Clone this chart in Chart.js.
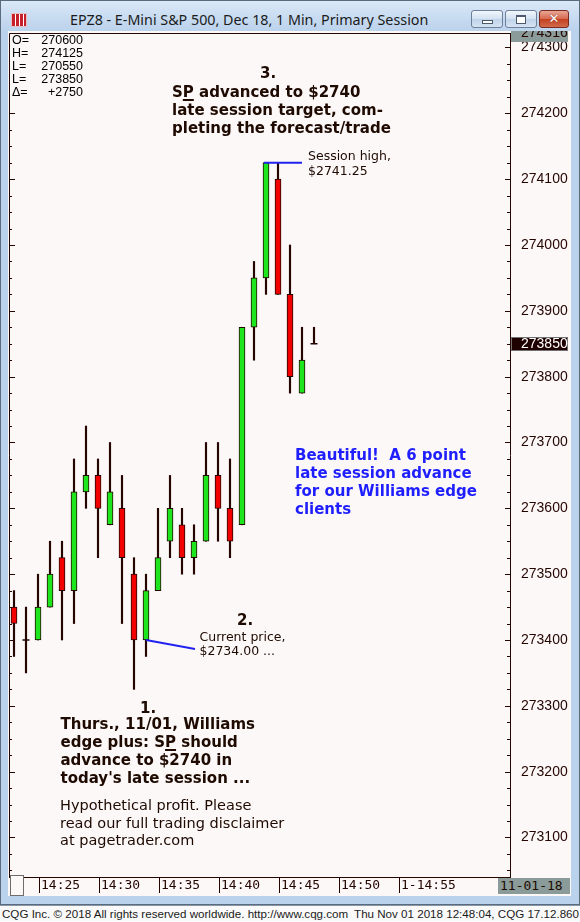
<!DOCTYPE html>
<html>
<head>
<meta charset="utf-8">
<title>EPZ8 - E-Mini S&amp;P 500, Dec 18, 1 Min</title>
<script src="https://cdn.jsdelivr.net/npm/chart.js@4.4.1/dist/chart.umd.min.js"></script>
<style>
  html, body { margin:0; padding:0; }
  body { width:580px; height:922px; position:relative; overflow:hidden; background:#fbfbfb;
         font-family:"DejaVu Sans", Verdana, sans-serif; color:#1e0a00; }
  .abs { position:absolute; }
  #win { left:0; top:0; width:578px; height:903px; border:1px solid #5a6b7e; background:#bad2ec; }
  #titlebar { left:1px; top:1px; width:578px; height:30px; background:linear-gradient(#dbe8f7, #c6daf0 60%, #bcd3ec); }
  #appicon { left:10px; top:12px; width:14px; height:12px; background:
      repeating-linear-gradient(90deg, #c8202a 0 3px, #fff 3px 4px), #c8202a; border:1px solid #e6c0c0; }
  #title { left:69px; top:9px; font-family:"Noto Sans", sans-serif; font-size:14.3px; line-height:20px; color:#1b1b1b; white-space:nowrap; }
  .btn { top:9px; width:30px; height:16px; border:1px solid #6e7f98; border-radius:3px;
         background:linear-gradient(#f1f6fc, #d3e1f1 50%, #c0d3ea 51%, #d5e3f3); }
  .btn .ico { position:absolute; background:#fff; border:1px solid #4c5a6c; }
  .close { width:28px; border-color:#7a2a1e; background:linear-gradient(#e9a795, #d6674d 50%, #c2401f 51%, #d16a4b);
           color:#fff; font-weight:bold; font-size:13px; line-height:16px; text-align:center; text-shadow:0 0 1px #5a1508; }
  #client { left:8px; top:31px; width:563px; height:865px; background:#fcf8f8; }
  #chartbox { left:9px; top:30px; width:561px; height:865px; }
  #ohlc { left:10px; top:34px; width:81px; height:66px; background:#fcf8f8;
          font-family:"Liberation Sans", Arial, sans-serif; font-size:12.5px; color:#000; }
  #ohlc .r { position:relative; height:13px; line-height:13px; padding-left:2px; }
  #ohlc .r span { position:absolute; right:8px; top:0; }
  #cornerbox { left:10px; top:875px; width:12px; height:19px; border:1px solid #6d6d6d; background:#fcf8f8; }
  #datebox { left:498px; top:878px; width:72px; height:16px; background:#8a9b99;
             font-family:"DejaVu Sans Mono", monospace; font-size:13px; line-height:16px; color:#1e0a00; }
  #datebox span { margin-left:2px; }
  #footer { left:0; top:905px; width:580px; height:17px; background:#fafafa; border-top:1px solid #8797a8;
            font-family:"Liberation Sans", Arial, sans-serif; font-size:11.6px; line-height:16px; color:#1a1a1a; white-space:nowrap; }
  .ann { position:absolute; white-space:nowrap; color:#1e0a00; }
  .b15 { font-weight:bold; font-size:15px; line-height:18px; }
  .n125 { font-size:12.5px; }
  .blue { color:#1e1eff; }
  u { text-decoration-thickness:1.5px; text-underline-offset:2px; }
</style>
</head>
<body>
<div id="win" class="abs"></div>
<div id="titlebar" class="abs">
  <div id="appicon" class="abs"></div>
  <div id="title" class="abs">EPZ8 - E-Mini S&amp;P 500, Dec 18, 1 Min, Primary Session</div>
  <div class="btn abs" style="left:470px;"><div class="ico" style="left:10px;top:9px;width:9px;height:2px;"></div></div>
  <div class="btn abs" style="left:504px;"><div class="ico" style="left:10px;top:4px;width:8px;height:6px;border-top-width:2px;"></div></div>
  <div class="btn close abs" style="left:538px;">✕</div>
</div>
<div id="client" class="abs"></div>
<div id="chartbox" class="abs"><canvas id="chart" width="561" height="865"></canvas></div>

<div id="ohlc" class="abs">
  <div class="r">O=<span>270600</span></div>
  <div class="r">H=<span>274125</span></div>
  <div class="r">L=<span>270550</span></div>
  <div class="r">L=<span>273850</span></div>
  <div class="r">Δ=<span>+2750</span></div>
</div>

<div class="ann b15" style="left:260px;top:63.5px;">3.</div>
<div class="ann b15" style="left:172px;top:83px;">S<u>P</u> advanced to $2740<br>late session target, com-<br>pleting the forecast/trade</div>
<div class="ann n125" style="left:308px;top:148px;line-height:15px;">Session high,<br>$2741.25</div>
<div class="ann b15 blue" style="left:295px;top:446px;">Beautiful!&nbsp; A 6 point<br>late session advance<br>for our Williams edge<br>clients</div>
<div class="ann b15" style="left:237px;top:611px;">2.</div>
<div class="ann n125" style="left:199.5px;top:629.5px;line-height:14px;">Current price,<br>$2734.00 ...</div>
<div class="ann b15" style="left:140px;top:698.5px;">1.</div>
<div class="ann b15" style="left:60.5px;top:715px;">Thurs., 11/01, Williams<br>edge plus: S<u>P</u> should<br>advance to $2740 in<br>today's late session ...</div>
<div class="ann" style="left:60px;top:797px;font-size:14.5px;line-height:17.7px;">Hypothetical profit. Please<br>read our full trading disclaimer<br>at pagetrader.com</div>

<div id="cornerbox" class="abs"></div>
<div id="datebox" class="abs"><span>11-01-18</span></div>
<div id="footer" class="abs">
  <span style="position:absolute;left:2px;">CQG Inc. © 2018 All rights reserved worldwide. http://www.cqg.com</span>
  <span style="position:absolute;right:1px;">Thu Nov 01 2018 12:48:04, CQG 17.12.860</span>
</div>

<script>
// one-minute bars, price in index points x100
const OPENS  = [273450, 273400, 273400, 273450, 273525, 273475, 273625, 273650, 273575, 273600,
                273500, 273400, 273475, 273550, 273575, 273525, 273550, 273650, 273600, 273575,
                273875, 273950, 274100, 273925, 273775, 273850];
const HIGHS  = [273475, 273450, 273500, 273550, 273550, 273675, 273725, 273675, 273700, 273650,
                273525, 273500, 273600, 273650, 273600, 273575, 273700, 273700, 273675, 273875,
                273975, 274125, 274125, 274000, 273875, 273875];
const LOWS   = [273375, 273350, 273400, 273450, 273400, 273425, 273600, 273525, 273575, 273425,
                273325, 273375, 273475, 273525, 273500, 273500, 273550, 273550, 273525, 273575,
                273825, 273925, 273925, 273775, 273775, 273850];
const CLOSES = [273425, 273400, 273450, 273500, 273475, 273625, 273650, 273600, 273625, 273525,
                273400, 273475, 273525, 273600, 273525, 273550, 273650, 273600, 273550, 273875,
                273950, 274125, 273925, 273800, 273825, 273850];

const TIME_LABELS = ['14:25', '14:30', '14:35', '14:40', '14:45', '14:50', '1-14:55'];
const FIRST_LABEL_BAR = 2;     // the 14:25 bar
const BARS_PER_LABEL = 5;

const Y_MIN = 273040, Y_MAX = 274322;
const Y_STEP = 25, Y_LABEL_STEP = 100;
const TOP_PRICE = '274316';
const CALLOUT_BAR = 11;        // "current price" bar

const X_MIN = -5 / 12, X_MAX = 41 + 1 / 3;

const DARK  = '#250500';
const GREEN = '#1ee61e';
const RED   = '#f20000';
const BLUE  = '#2222f0';

const idx = CLOSES.map((_, i) => i);

// chart area frame, scale ticks, price boxes and callout lines
const cqgMarks = {
  id: 'cqgMarks',
  afterDraw(chart) {
    const { ctx, chartArea: a, scales: { x, y } } = chart;
    ctx.save();
    ctx.strokeStyle = DARK;
    ctx.lineWidth = 1;
    ctx.beginPath();
    ctx.moveTo(a.left + 0.5, a.bottom);
    ctx.lineTo(a.left + 0.5, a.top + 0.5);
    ctx.lineTo(a.right, a.top + 0.5);
    y.ticks.forEach(t => {
      const py = Math.round(y.getPixelForValue(t.value)) + 0.5;
      const major = t.value % Y_LABEL_STEP === 0;
      ctx.moveTo(a.left, py); ctx.lineTo(a.left + (major ? 6 : 3), py);
      ctx.moveTo(a.right - (major ? 5 : 3), py); ctx.lineTo(a.right, py);
    });
    x.ticks.forEach(t => {
      const px = Math.round(x.getPixelForValue(t.value)) + 1.5;
      ctx.moveTo(px, a.bottom); ctx.lineTo(px, a.bottom + 16);
    });
    ctx.stroke();

    // callout lines
    ctx.strokeStyle = BLUE;
    ctx.lineWidth = 2;
    const hiBar = HIGHS.indexOf(Math.max(...HIGHS));
    const hx = x.getPixelForValue(hiBar), hy = y.getPixelForValue(HIGHS[hiBar]);
    ctx.beginPath(); ctx.moveTo(hx - 2, hy); ctx.lineTo(hx + 36, hy); ctx.stroke();
    const cx = x.getPixelForValue(CALLOUT_BAR), cy = y.getPixelForValue(OPENS[CALLOUT_BAR]);
    ctx.beginPath(); ctx.moveTo(cx, cy); ctx.lineTo(cx + 49, cy + 9); ctx.stroke();

    // top-of-scale box
    ctx.font = '14px "Liberation Sans", Arial, sans-serif';
    ctx.fillStyle = '#8a9b99';
    ctx.fillRect(a.right + 1, a.top - 2, 57, 11);
    ctx.save();
    ctx.beginPath(); ctx.rect(a.right + 1, a.top - 2, 57, 11); ctx.clip();
    ctx.fillStyle = DARK;
    ctx.textBaseline = 'alphabetic';
    ctx.fillText(TOP_PRICE, a.right + 11, a.top + 4.3);
    ctx.restore();

    // last price box
    const last = CLOSES[CLOSES.length - 1];
    const ly = Math.round(y.getPixelForValue(last));
    ctx.fillStyle = '#1f0000';
    ctx.fillRect(a.right + 1, ly - 7, 57, 14);
    ctx.strokeStyle = '#707070';
    ctx.lineWidth = 1;
    ctx.strokeRect(a.right + 1.5, ly - 6.5, 56, 13);
    ctx.fillStyle = '#ffffff';
    ctx.textBaseline = 'middle';
    ctx.fillText(String(last), a.right + 11, ly + 0.5);
    ctx.restore();
  }
};

const noPad = s => { s.paddingTop = 0; s.paddingBottom = 0; s.paddingLeft = 0; s.paddingRight = 0; };

new Chart(document.getElementById('chart'), {
  type: 'bar',
  data: {
    datasets: [
      { // high-low wicks
        data: idx.map(i => ({ x: i, y: [LOWS[i], HIGHS[i]] })),
        backgroundColor: DARK, barThickness: 1.5, grouped: false, order: 2
      },
      { // open-close bodies
        data: idx.map(i => ({ x: i, y: [OPENS[i], CLOSES[i]] })),
        backgroundColor: idx.map(i => CLOSES[i] >= OPENS[i] ? GREEN : RED),
        borderColor: DARK, borderWidth: 1, borderSkipped: false,
        barThickness: 6, grouped: false, order: 1
      },
      { // open == close
        type: 'line', showLine: false,
        data: idx.filter(i => OPENS[i] === CLOSES[i]).map(i => ({ x: i, y: CLOSES[i] })),
        pointStyle: 'line', pointRadius: 3.5, borderColor: DARK, borderWidth: 1.5, order: 0
      }
    ]
  },
  options: {
    responsive: false,
    animation: false,
    layout: { autoPadding: false, padding: { top: 3, left: 0, right: 0, bottom: 0 } },
    plugins: { legend: { display: false }, tooltip: { enabled: false } },
    scales: {
      x: {
        type: 'linear', min: X_MIN, max: X_MAX, offset: false,
        grid: { display: true, drawOnChartArea: false, drawTicks: false, offset: false },
        border: { display: true, color: DARK, width: 1 },
        afterBuildTicks: s => {
          s.ticks = TIME_LABELS.map((_, k) => ({ value: FIRST_LABEL_BAR + k * BARS_PER_LABEL }));
        },
        ticks: {
          autoSkip: false, maxRotation: 0, minRotation: 0, align: 'start', labelOffset: 3, padding: 1,
          color: DARK, font: { family: '"DejaVu Sans Mono", monospace', size: 13 },
          callback: (v, k) => TIME_LABELS[k]
        },
        afterFit: s => { s.height = 18; noPad(s); }
      },
      y: {
        position: 'right', min: Y_MIN, max: Y_MAX,
        grid: { display: true, drawOnChartArea: false, drawTicks: false },
        border: { display: true, color: DARK, width: 1 },
        afterBuildTicks: s => {
          const t = [];
          for (let v = Math.ceil(Y_MIN / Y_STEP) * Y_STEP; v <= Y_MAX; v += Y_STEP) t.push({ value: v });
          s.ticks = t;
        },
        ticks: {
          autoSkip: false, padding: 11, color: DARK,
          font: { family: '"Liberation Sans", Arial, sans-serif', size: 14 },
          callback: v => v % Y_LABEL_STEP === 0 ? String(v) : ''
        },
        afterFit: s => { s.width = 60; noPad(s); }
      }
    }
  },
  plugins: [cqgMarks]
});
</script>
</body>
</html>
